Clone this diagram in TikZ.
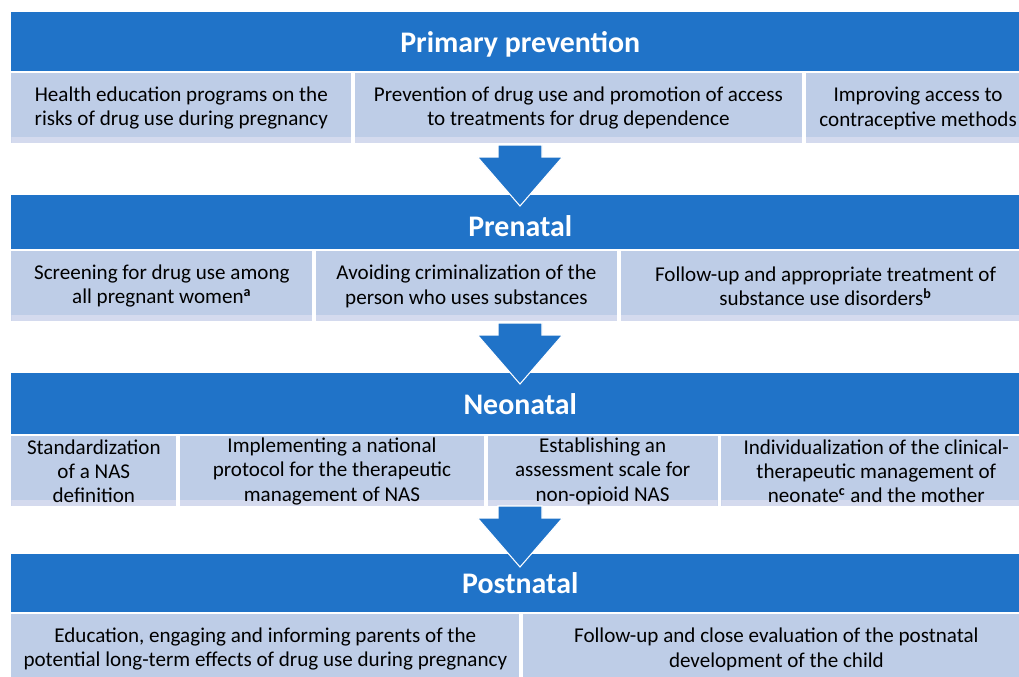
\documentclass[tikz,border=0pt]{standalone}
\usepackage{fontspec}
\setmainfont{Carlito}
\usetikzlibrary{positioning}

\definecolor{stageblue}{RGB}{32,115,200}
\definecolor{cellfill}{RGB}{190,205,231}
\definecolor{cellstrip}{RGB}{212,218,238}

\tikzset{
  stage/.style={rectangle, fill=stageblue, text=white, inner sep=0pt,
    minimum width=20.36cm, anchor=north west, text depth=0pt,
    font=\fontsize{17}{20}\selectfont\bfseries},
  cell/.style={rectangle, fill=cellfill, inner sep=0pt, minimum height=1.4cm,
    align=center, font=\fontsize{12}{13.8}\selectfont,
    path picture={\fill[cellstrip] (path picture bounding box.south west)
      rectangle ([yshift=0.12cm]path picture bounding box.south east);}},
  flowarrow/.pic={
    \filldraw[fill=stageblue, draw=white, line width=0.6pt]
      (-22,0) -- (22,0) -- (22,12) -- (42.5,12) -- (0,61)
      -- (-42.5,12) -- (-22,12) -- cycle;
  }
}

\begin{document}
\begin{tikzpicture}[x=0.02cm, y=-0.02cm, node distance=0.06cm]
  \useasboundingbox (0,0) rectangle (1019,677);

  % primary prevention
  \node[stage, minimum height=1.18cm] (h1) at (11,12) {Primary prevention};
  \node[cell, minimum width=6.8cm, anchor=north west] (p1) at (11,73)
    {Health education programs on the\\risks of drug use during pregnancy};
  \node[cell, minimum width=8.94cm, right=of p1] (p2)
    {Prevention of drug use and promotion of access\\to treatments for drug dependence};
  \node[cell, minimum width=4.5cm, right=of p2] (p3)
    {Improving access to\\contraceptive methods};

  % prenatal
  \node[stage, minimum height=1.08cm, text height=0.58cm] (h2) at (11,195) {Prenatal};
  \node[cell, minimum width=6.02cm, anchor=north west] (q1) at (11,251)
    {Screening for drug use among\\all pregnant women\textsuperscript{\textbf{a}}};
  \node[cell, minimum width=6.02cm, right=of q1] (q2)
    {Avoiding criminalization of the\\person who uses substances};
  \node[cell, minimum width=8.2cm, right=of q2] (q3)
    {Follow-up and appropriate treatment of\\substance use disorders\textsuperscript{\textbf{b}}};

  % neonatal
  \node[stage, minimum height=1.22cm] (h3) at (11,373) {Neonatal};
  \node[cell, minimum width=3.3cm, anchor=north west] (n1) at (11,436)
    {Standardization\\of a NAS\\definition};
  \node[cell, minimum width=6.08cm, right=of n1] (n2)
    {Implementing a national\\protocol for the therapeutic\\management of NAS};
  \node[cell, minimum width=4.6cm, right=of n2] (n3)
    {Establishing an\\assessment scale for\\non-opioid NAS};
  \node[cell, minimum width=6.2cm, right=of n3] (n4)
    {Individualization of the clinical-\\therapeutic management of\\neonate\textsuperscript{\textbf{c}} and the mother};

  % postnatal
  \node[stage, minimum height=1.16cm] (h4) at (11,554) {Postnatal};
  \node[cell, minimum width=10.16cm, anchor=north west] (r1) at (11,614)
    {Education, engaging and informing parents of the\\potential long-term effects of drug use during pregnancy};
  \node[cell, minimum width=10.14cm, right=of r1] (r2)
    {Follow-up and close evaluation of the postnatal\\development of the child};

  % arrows between the stages
  \pic at (520,145) {flowarrow};
  \pic at (520,323) {flowarrow};
  \pic at (520,506) {flowarrow};
\end{tikzpicture}
\end{document}
